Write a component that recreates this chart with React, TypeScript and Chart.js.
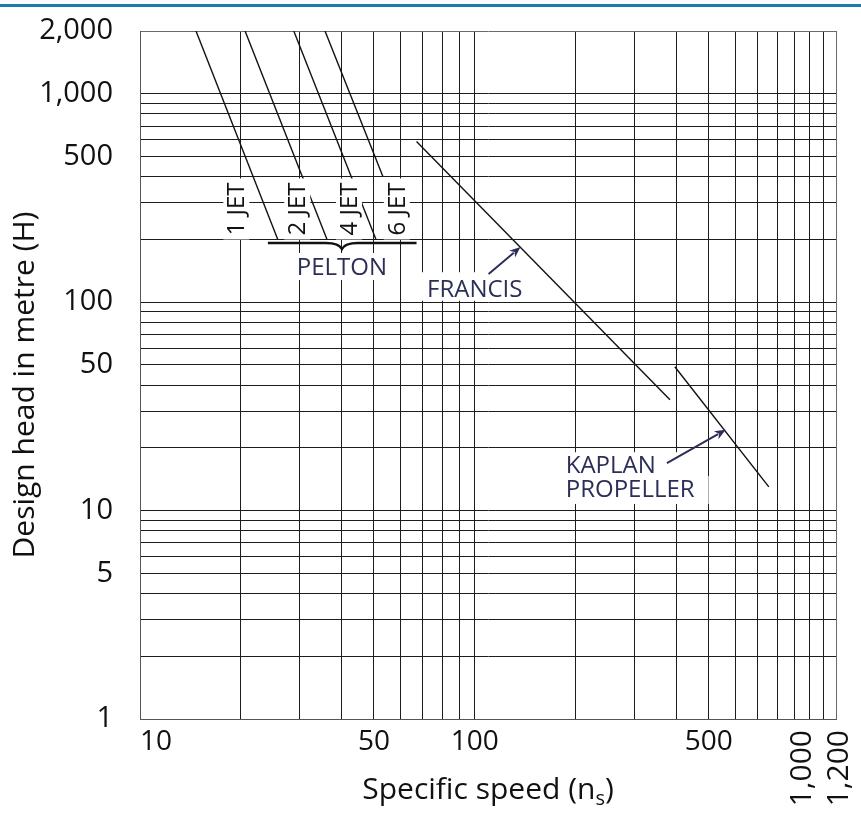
import React, { useEffect, useRef } from 'react';
import { Chart, registerables } from 'chart.js';

Chart.register(...registerables);

// ---- Axis values ----
const yGridValues = [1, 2, 3, 4, 5, 6, 7, 8, 9, 10, 20, 30, 40, 50, 60, 70, 80, 90, 100, 200, 300, 400, 500, 600, 700, 800, 900, 1000, 2000];
const yTickLabels = [1, 5, 10, 50, 100, 500, 1000, 2000];
const xGridValues = [10, 20, 30, 40, 50, 60, 70, 80, 90, 100, 200, 300, 400, 500, 600, 700, 800, 900, 1000, 1100, 1200];
const xTickLabels = [10, 50, 100, 500];
const xRotatedLabels = [1000, 1200];

// ---- Series (specific speed ns, design head H) ----
const pelton1Jet = [{ x: 14.7, y: 2000 }, { x: 25.8, y: 200 }];
const pelton2Jet = [{ x: 20.6, y: 2000 }, { x: 36.2, y: 200 }];
const pelton4Jet = [{ x: 28.8, y: 2000 }, { x: 50.7, y: 200 }];
const pelton6Jet = [{ x: 35.7, y: 2000 }, { x: 53.2, y: 400 }];
const francis = [{ x: 67, y: 590 }, { x: 383, y: 34 }];
const kaplan = [{ x: 396, y: 49 }, { x: 756, y: 13 }];

// ---- Annotation anchors (data coordinates) ----
const jetLabels = ['1 JET', '2 JET', '4 JET', '6 JET'];
const jetLabelSpeeds = [19.4, 29.5, 42.1, 58.5];
const jetLabelHead = 280;
const brace = { from: 24.1, to: 67, tip: 40.1, head: 192, tipHead: 180 };
const peltonLabel = { text: 'PELTON', x: 40.1, y: 147.5 };
const francisLabel = { text: 'FRANCIS', x: 100, y: 116 };
const kaplanLines = ['KAPLAN', 'PROPELLER'];
const kaplanLabelX = 187;
const kaplanLabelHeads = [16.5, 12.7];
const francisArrow = { from: { x: 110, y: 136.5 }, to: { x: 137, y: 184 } };
const kaplanArrow = { from: { x: 375, y: 16.9 }, to: { x: 562, y: 24.4 } };

const FONT = '"Open Sans", "Noto Sans", sans-serif';
const NAVY = '#2c2e58';
const fmt = (v: number) => v.toLocaleString('en-US');

function drawArrow(ctx: CanvasRenderingContext2D, x0: number, y0: number, x1: number, y1: number) {
  const dx = x1 - x0, dy = y1 - y0;
  const len = Math.hypot(dx, dy);
  const ux = dx / len, uy = dy / len;
  const hl = 11, hw = 4.5;
  ctx.strokeStyle = NAVY;
  ctx.fillStyle = NAVY;
  ctx.lineWidth = 2;
  ctx.beginPath();
  ctx.moveTo(x0, y0);
  ctx.lineTo(x1 - ux * hl * 0.8, y1 - uy * hl * 0.8);
  ctx.stroke();
  ctx.beginPath();
  ctx.moveTo(x1, y1);
  ctx.lineTo(x1 - ux * hl - uy * hw, y1 - uy * hl + ux * hw);
  ctx.lineTo(x1 - ux * hl * 0.7, y1 - uy * hl * 0.7);
  ctx.lineTo(x1 - ux * hl + uy * hw, y1 - uy * hl - ux * hw);
  ctx.closePath();
  ctx.fill();
}

const annotationPlugin = {
  id: 'turbineAnnotations',
  afterDatasetsDraw(chart: any) {
    const ctx: CanvasRenderingContext2D = chart.ctx;
    const xs = chart.scales.x;
    const ys = chart.scales.y;
    const px = (v: number) => xs.getPixelForValue(v);
    const py = (v: number) => ys.getPixelForValue(v);
    ctx.save();

    // JET labels (rotated, white backing)
    ctx.font = `24px ${FONT}`;
    jetLabels.forEach((t, i) => {
      const cx = px(jetLabelSpeeds[i]);
      const cy = py(jetLabelHead);
      const w = ctx.measureText(t).width;
      ctx.save();
      ctx.translate(cx, cy);
      ctx.rotate(-Math.PI / 2);
      ctx.fillStyle = '#fff';
      ctx.fillRect(-w / 2 - 4, -13, w + 8, 26);
      ctx.fillStyle = '#111';
      ctx.textAlign = 'center';
      ctx.textBaseline = 'middle';
      ctx.fillText(t, 0, 1);
      ctx.restore();
    });

    // Brace
    {
      const y0 = py(brace.head);
      const yt = py(brace.tipHead);
      const xl = px(brace.from);
      const xr = px(brace.to);
      const xc = px(brace.tip);
      ctx.strokeStyle = '#111';
      ctx.lineWidth = 2.5;
      ctx.beginPath();
      ctx.moveTo(xl, y0);
      ctx.lineTo(xc - 16, y0);
      ctx.bezierCurveTo(xc - 6, y0, xc - 2, y0 + 2, xc, yt);
      ctx.bezierCurveTo(xc + 2, y0 + 2, xc + 6, y0, xc + 16, y0);
      ctx.lineTo(xr, y0);
      ctx.stroke();
    }

    // PELTON
    ctx.font = `24px ${FONT}`;
    {
      const cx = px(peltonLabel.x), cy = py(peltonLabel.y);
      const w = ctx.measureText(peltonLabel.text).width;
      ctx.fillStyle = '#fff';
      ctx.fillRect(cx - w / 2 - 6, cy - 14, w + 12, 27);
      ctx.fillStyle = NAVY;
      ctx.textAlign = 'center';
      ctx.textBaseline = 'middle';
      ctx.fillText(peltonLabel.text, cx, cy + 1);
    }

    // FRANCIS
    {
      const cx = px(francisLabel.x), cy = py(francisLabel.y);
      const w = ctx.measureText(francisLabel.text).width;
      ctx.fillStyle = '#fff';
      ctx.fillRect(cx - w / 2 - 8, cy - 16.5, w + 16, 28.5);
      ctx.fillStyle = NAVY;
      ctx.textAlign = 'center';
      ctx.textBaseline = 'middle';
      ctx.fillText(francisLabel.text, cx, cy + 1);
    }

    // KAPLAN / PROPELLER
    {
      const lx = px(kaplanLabelX);
      const rightPads = [25, 14];
      kaplanLines.forEach((t, i) => {
        const cy = py(kaplanLabelHeads[i]);
        const w = ctx.measureText(t).width;
        ctx.fillStyle = '#fff';
        ctx.fillRect(lx - 6, cy - 13, w + 6 + rightPads[i], i === 0 ? 26 : 28);
      });
      kaplanLines.forEach((t, i) => {
        const cy = py(kaplanLabelHeads[i]);
        ctx.fillStyle = NAVY;
        ctx.textAlign = 'left';
        ctx.textBaseline = 'middle';
        ctx.fillText(t, lx, cy + 1);
      });
    }

    // Arrows
    drawArrow(ctx, px(francisArrow.from.x), py(francisArrow.from.y), px(francisArrow.to.x), py(francisArrow.to.y));
    drawArrow(ctx, px(kaplanArrow.from.x), py(kaplanArrow.from.y), px(kaplanArrow.to.x), py(kaplanArrow.to.y));

    ctx.restore();
  },
  afterDraw(chart: any) {
    const ctx: CanvasRenderingContext2D = chart.ctx;
    const xs = chart.scales.x;
    const area = chart.chartArea;
    ctx.save();
    ctx.fillStyle = '#111';

    // Rotated x tick labels
    ctx.font = `30px ${FONT}`;
    const rotOffsets = [-7.5, 3.5];
    xRotatedLabels.forEach((v, i) => {
      const cx = xs.getPixelForValue(v) + rotOffsets[i];
      ctx.save();
      ctx.translate(cx, area.bottom + 11);
      ctx.rotate(-Math.PI / 2);
      ctx.textAlign = 'right';
      ctx.textBaseline = 'middle';
      ctx.fillText(fmt(v), 0, 0);
      ctx.restore();
    });

    // Y title
    ctx.font = `30px ${FONT}`;
    ctx.save();
    ctx.translate(34, (area.top + area.bottom) / 2 + 10);
    ctx.rotate(-Math.PI / 2);
    ctx.textAlign = 'center';
    ctx.textBaseline = 'alphabetic';
    ctx.fillText('Design head in metre (H)', 0, 0);
    ctx.restore();

    // X title with subscript
    {
      const t1 = 'Specific speed (n';
      const ts = 's';
      const t2 = ')';
      ctx.font = `30px ${FONT}`;
      const w1 = ctx.measureText(t1).width;
      const w2 = ctx.measureText(t2).width;
      ctx.font = `20px ${FONT}`;
      const wsub = ctx.measureText(ts).width;
      const total = w1 + wsub + w2;
      const cx = (area.left + area.right) / 2;
      const base = area.bottom + 80;
      let x = cx - total / 2;
      ctx.textAlign = 'left';
      ctx.textBaseline = 'alphabetic';
      ctx.font = `30px ${FONT}`;
      ctx.fillText(t1, x, base);
      x += w1;
      ctx.font = `20px ${FONT}`;
      ctx.fillText(ts, x, base + 6);
      x += wsub;
      ctx.font = `30px ${FONT}`;
      ctx.fillText(t2, x, base);
    }
    ctx.restore();
  },
};

export default function App() {
  const canvasRef = useRef<HTMLCanvasElement | null>(null);

  useEffect(() => {
    if (!canvasRef.current) return;
    const lineStyle = { showLine: true, borderColor: '#111', borderWidth: 1.4, pointRadius: 0, pointHoverRadius: 0, fill: false };
    const chart = new Chart(canvasRef.current, {
      type: 'scatter',
      data: {
        datasets: [
          { label: '1 JET', data: pelton1Jet, ...lineStyle },
          { label: '2 JET', data: pelton2Jet, ...lineStyle },
          { label: '4 JET', data: pelton4Jet, ...lineStyle },
          { label: '6 JET', data: pelton6Jet, ...lineStyle },
          { label: 'FRANCIS', data: francis, ...lineStyle },
          { label: 'KAPLAN PROPELLER', data: kaplan, ...lineStyle },
        ],
      },
      options: {
        animation: false,
        responsive: false,
        devicePixelRatio: 1,
        layout: { autoPadding: false, padding: { top: 31, right: 25, left: 0, bottom: 0 } },
        plugins: {
          legend: { display: false },
          tooltip: { enabled: false },
          title: { display: false },
        },
        scales: {
          x: {
            type: 'logarithmic',
            min: 10,
            max: 1200,
            position: 'bottom',
            afterBuildTicks: (s: any) => {
              s.ticks = xGridValues.map((v) => ({ value: v }));
            },
            afterFit: (s: any) => {
              s.height = 94;
              s.paddingLeft = 0;
              s.paddingRight = 0;
            },
            ticks: {
              autoSkip: false,
              maxRotation: 0,
              minRotation: 0,
              align: 'inner',
              padding: 6,
              color: '#111',
              font: { family: FONT, size: 28 },
              callback: (v: any) => (xTickLabels.includes(Number(v)) ? fmt(Number(v)) : ''),
            },
            grid: {
              drawTicks: false,
              lineWidth: 1,
              color: (c: any) => (c.tick && c.tick.value === 1200 ? '#6a6a6a' : '#1c1c1c'),
            },
            border: { display: true, color: '#555', width: 1 },
            title: { display: false },
          },
          y: {
            type: 'logarithmic',
            min: 1,
            max: 2000,
            position: 'left',
            afterBuildTicks: (s: any) => {
              s.ticks = yGridValues.map((v) => ({ value: v }));
            },
            afterFit: (s: any) => {
              s.width = 140;
              s.paddingTop = 0;
              s.paddingBottom = 0;
            },
            ticks: {
              autoSkip: false,
              padding: 27,
              color: '#111',
              font: { family: FONT, size: 29 },
              callback: (v: any) => (yTickLabels.includes(Number(v)) ? fmt(Number(v)) : ''),
            },
            grid: {
              drawTicks: false,
              lineWidth: 1,
              color: (c: any) => (c.tick && c.tick.value === 2000 ? '#6a6a6a' : '#1c1c1c'),
            },
            border: { display: true, color: '#555', width: 1 },
            title: { display: false },
          },
        },
      } as any,
      plugins: [annotationPlugin],
    });
    return () => chart.destroy();
  }, []);

  return (
    <div style={{ position: 'absolute', left: 0, top: 0, width: 861, height: 813, background: '#fff', overflow: 'hidden' }}>
      <canvas ref={canvasRef} width={861} height={813} style={{ position: 'absolute', left: 0, top: 0, display: 'block' }} />
      <div style={{ position: 'absolute', left: 0, top: 4, width: 861, height: 3, background: '#1f77b4' }} />
    </div>
  );
}
